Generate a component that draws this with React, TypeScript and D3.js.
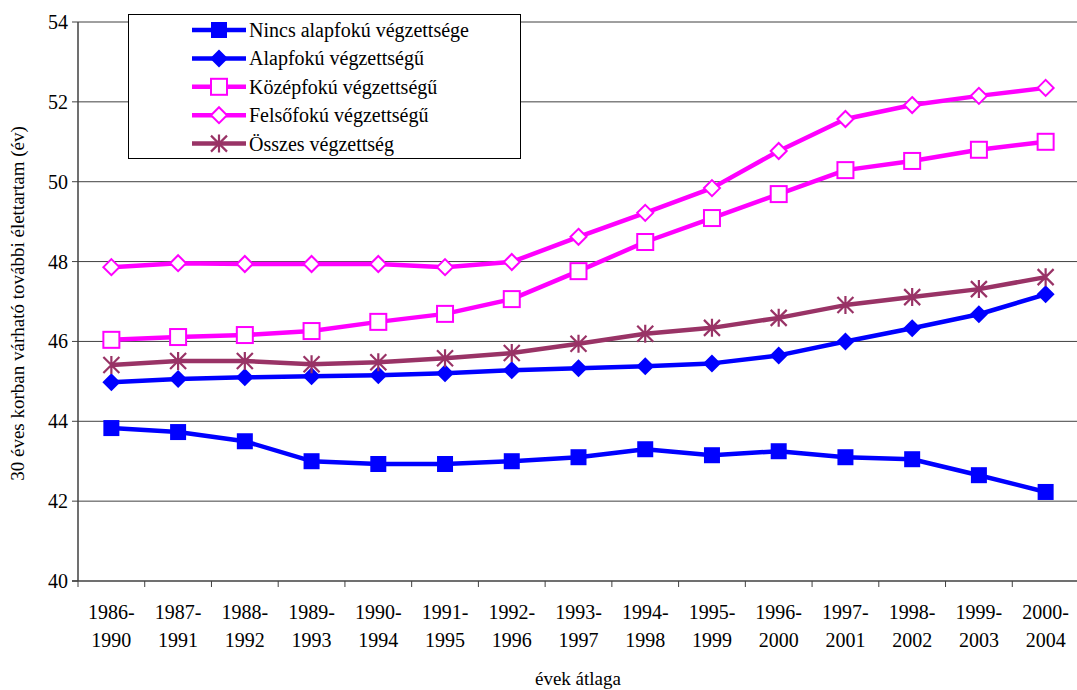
import React, { useEffect, useRef } from 'react';
import * as d3 from 'd3';

const periods = ['1986-1990', '1987-1991', '1988-1992', '1989-1993', '1990-1994', '1991-1995', '1992-1996',
  '1993-1997', '1994-1998', '1995-1999', '1996-2000', '1997-2001', '1998-2002', '1999-2003', '2000-2004'];

const nincs = [43.83, 43.73, 43.5, 43.0, 42.93, 42.93, 43.0, 43.1, 43.3, 43.15, 43.25, 43.1, 43.05, 42.65, 42.23];
const alapfoku = [44.98, 45.06, 45.1, 45.13, 45.15, 45.2, 45.28, 45.33, 45.38, 45.45, 45.65, 46.0, 46.33, 46.68, 47.18];
const kozepfoku = [46.04, 46.11, 46.16, 46.26, 46.49, 46.69, 47.06, 47.76, 48.49, 49.09, 49.69, 50.29, 50.52, 50.8, 51.0];
const felsofoku = [47.86, 47.96, 47.94, 47.94, 47.94, 47.86, 47.99, 48.62, 49.22, 49.84, 50.77, 51.57, 51.92, 52.15, 52.35];
const osszes = [45.41, 45.51, 45.51, 45.43, 45.48, 45.58, 45.71, 45.94, 46.19, 46.34, 46.59, 46.91, 47.11, 47.31, 47.61];

const yTicks = [40, 42, 44, 46, 48, 50, 52, 54];

const series = [
  { name: 'Nincs alapfokú végzettsége', values: nincs, color: '#0000ff', marker: 'square' },
  { name: 'Alapfokú végzettségű', values: alapfoku, color: '#0000ff', marker: 'diamond' },
  { name: 'Középfokú végzettségű', values: kozepfoku, color: '#ff00ff', marker: 'squareOpen' },
  { name: 'Felsőfokú végzettségű', values: felsofoku, color: '#ff00ff', marker: 'diamondOpen' },
  { name: 'Összes végzettség', values: osszes, color: '#993366', marker: 'star' },
];

const FONT = 'Liberation Serif, DejaVu Serif, serif';

const drawMarker = (g: any, type: string, color: string) => {
  if (type === 'square') {
    g.append('rect').attr('x', -8).attr('y', -8).attr('width', 16).attr('height', 16).attr('fill', color);
  } else if (type === 'squareOpen') {
    g.append('rect').attr('x', -8).attr('y', -8).attr('width', 16).attr('height', 16)
      .attr('fill', '#fff').attr('stroke', color).attr('stroke-width', 2);
  } else if (type === 'diamond') {
    g.append('path').attr('d', 'M0,-9L9,0L0,9L-9,0Z').attr('fill', color);
  } else if (type === 'diamondOpen') {
    g.append('path').attr('d', 'M0,-8L8,0L0,8L-8,0Z').attr('fill', '#fff')
      .attr('stroke', color).attr('stroke-width', 2);
  } else if (type === 'star') {
    g.append('path').attr('d', 'M0,-9L0,9M-8,-8L8,8M-8,8L8,-8')
      .attr('stroke', color).attr('stroke-width', 2.2).attr('fill', 'none');
  }
};

const App = () => {
  const ref = useRef<SVGSVGElement | null>(null);
  const width = 1077;
  const height = 690;
  const margin = { top: 22, right: -2, bottom: 109, left: 78 };

  useEffect(() => {
    const svg = d3.select(ref.current);
    svg.selectAll('*').remove();

    const x = d3.scaleBand().domain(periods).range([margin.left, width - margin.right]);
    const y = d3.scaleLinear().domain([40, 54]).range([height - margin.bottom, margin.top]);

    // gridlines
    svg.append('g')
      .selectAll('line')
      .data(yTicks.filter(t => t > 40))
      .enter().append('line')
      .attr('x1', margin.left).attr('x2', width)
      .attr('y1', d => y(d)).attr('y2', d => y(d))
      .attr('stroke', '#404040').attr('stroke-width', 1);

    // axes
    svg.append('line')
      .attr('x1', margin.left).attr('x2', margin.left)
      .attr('y1', y(54)).attr('y2', y(40))
      .attr('stroke', '#404040').attr('stroke-width', 1.5);
    svg.append('line')
      .attr('x1', margin.left - 6).attr('x2', width)
      .attr('y1', y(40)).attr('y2', y(40))
      .attr('stroke', '#404040').attr('stroke-width', 1.5);

    svg.append('g').selectAll('line').data(yTicks).enter().append('line')
      .attr('x1', margin.left - 6).attr('x2', margin.left)
      .attr('y1', d => y(d)).attr('y2', d => y(d))
      .attr('stroke', '#404040');

    svg.append('g').selectAll('text').data(yTicks).enter().append('text')
      .attr('x', margin.left - 10).attr('y', d => y(d)).attr('dy', '0.35em')
      .attr('text-anchor', 'end').attr('font-family', FONT).attr('font-size', 20)
      .text(d => d);

    // x ticks
    const xTickPos = periods.map(p => x(p) as number).concat([width - margin.right]);
    svg.append('g').selectAll('line').data(xTickPos).enter().append('line')
      .attr('x1', d => d).attr('x2', d => d)
      .attr('y1', y(40)).attr('y2', y(40) + 6)
      .attr('stroke', '#404040');

    const xl = svg.append('g').selectAll('text').data(periods).enter().append('text')
      .attr('x', d => (x(d) as number) + x.bandwidth() / 2)
      .attr('text-anchor', 'middle').attr('font-family', FONT).attr('font-size', 20);
    xl.append('tspan').attr('x', d => (x(d) as number) + x.bandwidth() / 2).attr('y', 619)
      .text(d => d.split('-')[0] + '-');
    xl.append('tspan').attr('x', d => (x(d) as number) + x.bandwidth() / 2).attr('y', 647)
      .text(d => d.split('-')[1]);

    // axis titles
    svg.append('text')
      .attr('transform', `translate(24,${(y(40) + y(54)) / 2 + 2}) rotate(-90)`)
      .attr('text-anchor', 'middle').attr('font-family', FONT).attr('font-size', 19)
      .text('30 éves korban várható további élettartam (év)');
    svg.append('text')
      .attr('x', 578).attr('y', 685)
      .attr('text-anchor', 'middle').attr('font-family', FONT).attr('font-size', 19)
      .text('évek átlaga');

    // lines
    const line = d3.line<number>()
      .x((d, i) => (x(periods[i]) as number) + x.bandwidth() / 2)
      .y(d => y(d));

    series.forEach(s => {
      svg.append('path').datum(s.values)
        .attr('d', line).attr('fill', 'none')
        .attr('stroke', s.color).attr('stroke-width', 4.5).attr('stroke-linejoin', 'round');
    });
    series.forEach(s => {
      s.values.forEach((v, i) => {
        const g = svg.append('g')
          .attr('transform', `translate(${(x(periods[i]) as number) + x.bandwidth() / 2},${y(v)})`);
        drawMarker(g, s.marker, s.color);
      });
    });

    // legend
    const lg = svg.append('g').attr('transform', 'translate(128,14)');
    lg.append('rect').attr('x', 0.5).attr('y', 0.5).attr('width', 392).attr('height', 144)
      .attr('fill', '#fff').attr('stroke', '#000').attr('stroke-width', 1);
    series.forEach((s, i) => {
      const cy = 16 + i * 28.4;
      lg.append('line').attr('x1', 64).attr('x2', 118).attr('y1', cy).attr('y2', cy)
        .attr('stroke', s.color).attr('stroke-width', 4.5);
      const m = lg.append('g').attr('transform', `translate(91,${cy})`);
      drawMarker(m, s.marker, s.color);
      lg.append('text').attr('x', 121).attr('y', cy).attr('dy', '0.35em')
        .attr('font-family', FONT).attr('font-size', 20).text(s.name);
    });
  }, []);

  return (
    <svg ref={ref} width={width} height={height}
      style={{ position: 'absolute', left: 0, top: 0, background: '#fff' }} />
  );
};

export default App;
